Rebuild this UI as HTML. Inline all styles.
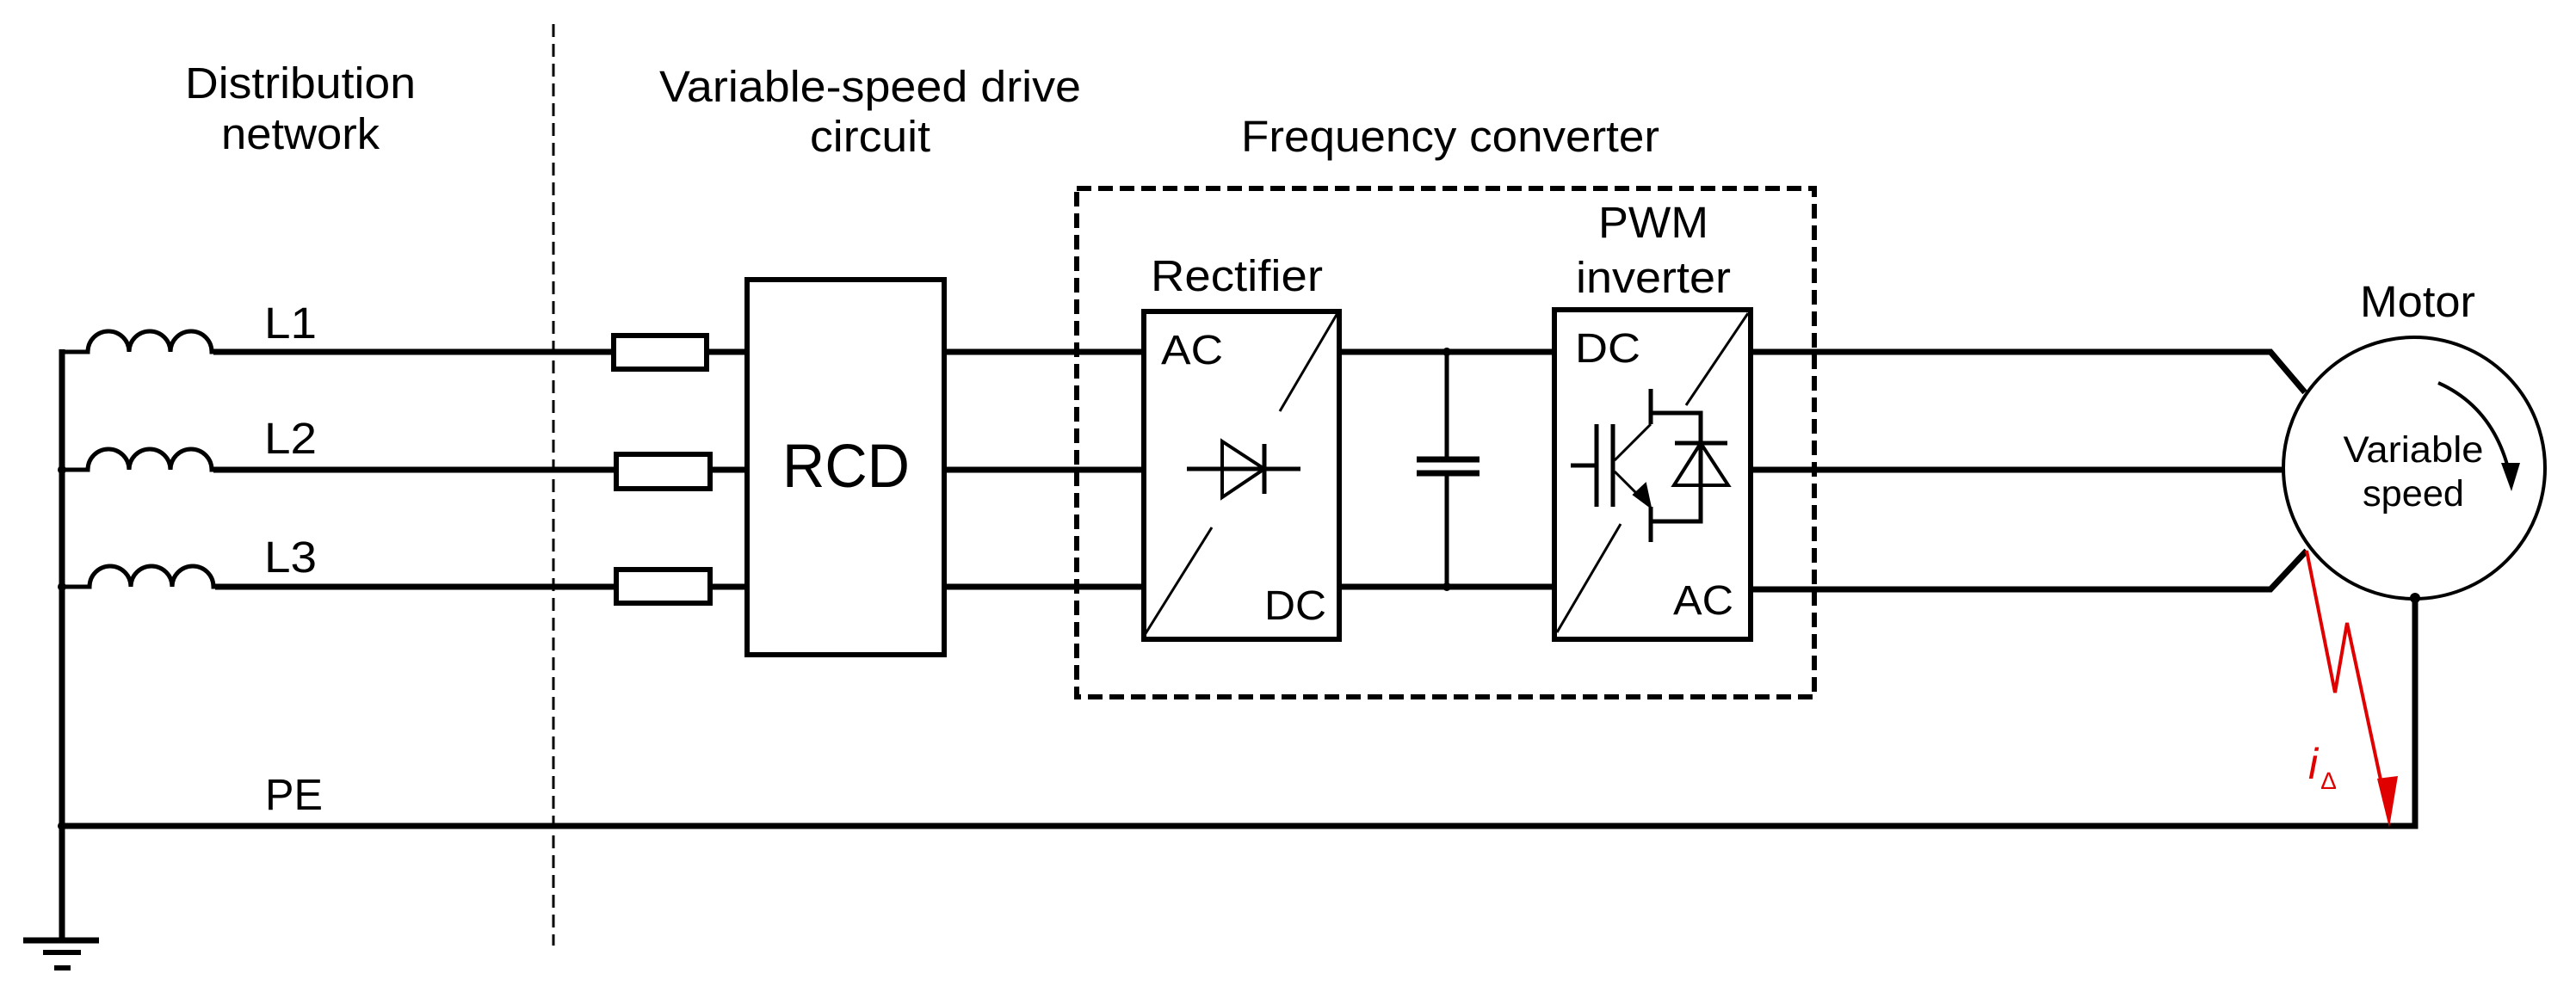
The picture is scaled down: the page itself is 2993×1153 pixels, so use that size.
<!DOCTYPE html>
<html><head><meta charset="utf-8"><style>html,body{margin:0;padding:0;background:#fff}svg{display:block}</style></head>
<body>
<svg width="2993" height="1153" viewBox="0 0 2993 1153" xmlns="http://www.w3.org/2000/svg" font-family="Liberation Sans, Arial, sans-serif" fill="#000">
<defs>
<marker id="ah" markerWidth="10" markerHeight="10" refX="8" refY="5" orient="auto" markerUnits="userSpaceOnUse"></marker>
</defs>
<g stroke="#000" stroke-width="6" fill="none">
<!-- dashed divider -->
<line x1="643" y1="28" x2="643" y2="1099" stroke-width="3" stroke-dasharray="15 8"/>
<!-- left bus -->
<line x1="72" y1="406" x2="72" y2="1093" stroke-width="7"/>
<!-- inductors and lines -->
<path d="M70 409 H102 a24 24 0 0 1 48 0 a24 24 0 0 1 48 0 a24 24 0 0 1 48 0 H713" stroke-width="5"/>
<path d="M70 546 H102 a24 24 0 0 1 48 0 a24 24 0 0 1 48 0 a24 24 0 0 1 48 0 H716" stroke-width="5"/>
<path d="M70 682 H104 a24 24 0 0 1 48 0 a24 24 0 0 1 48 0 a24 24 0 0 1 48 0 H716" stroke-width="5"/>
<line x1="248" y1="409" x2="713" y2="409" stroke-width="7"/>
<line x1="248" y1="546" x2="716" y2="546" stroke-width="7"/>
<line x1="250" y1="682" x2="716" y2="682" stroke-width="7"/>
<!-- fuses -->
<rect x="713" y="390" width="108" height="39"/>
<rect x="716" y="528" width="109" height="40"/>
<rect x="716" y="662" width="109" height="39"/>
<line x1="821" y1="409" x2="868" y2="409" stroke-width="7"/>
<line x1="825" y1="546" x2="868" y2="546" stroke-width="7"/>
<line x1="825" y1="682" x2="868" y2="682" stroke-width="7"/>
<!-- RCD -->
<rect x="868" y="325" width="229" height="436"/>
<line x1="1097" y1="409" x2="1329" y2="409" stroke-width="7"/>
<line x1="1097" y1="546" x2="1329" y2="546" stroke-width="7"/>
<line x1="1097" y1="682" x2="1329" y2="682" stroke-width="7"/>
<!-- freq converter dashed -->
<rect x="1251" y="219" width="857" height="591" stroke-dasharray="17 8"/>
<!-- rectifier -->
<rect x="1329" y="362" width="227" height="381" fill="#fff"/>
<line x1="1330" y1="738" x2="1408" y2="613" stroke-width="3"/>
<line x1="1487" y1="478" x2="1554" y2="364" stroke-width="3"/>
<line x1="1379" y1="545" x2="1511" y2="545" stroke-width="5"/>
<path d="M1420 513 L1469 545 L1420 578 Z" stroke-width="4"/>
<line x1="1469" y1="516" x2="1469" y2="574" stroke-width="5"/>
<!-- DC bus -->
<line x1="1556" y1="409" x2="1806" y2="409" stroke-width="7"/>
<line x1="1556" y1="682" x2="1806" y2="682" stroke-width="7"/>
<line x1="1681" y1="409" x2="1681" y2="534" stroke-width="5"/>
<line x1="1681" y1="549" x2="1681" y2="682" stroke-width="5"/>
<line x1="1646" y1="534" x2="1719" y2="534" stroke-width="7"/>
<line x1="1646" y1="550" x2="1719" y2="550" stroke-width="7"/>
<!-- PWM -->
<rect x="1806" y="360" width="228" height="383"/>
<line x1="1809" y1="735" x2="1883" y2="609" stroke-width="3"/>
<line x1="1959" y1="471" x2="2031" y2="364" stroke-width="3"/>
<line x1="1825" y1="541" x2="1855" y2="541" stroke-width="5"/>
<line x1="1855" y1="493" x2="1855" y2="589" stroke-width="5"/>
<line x1="1874" y1="493" x2="1874" y2="589" stroke-width="5"/>
<line x1="1876" y1="535" x2="1918" y2="493" stroke-width="3"/>
<line x1="1876" y1="548" x2="1908" y2="580" stroke-width="3"/>
<polygon points="1918,590 1898,575 1912,562" fill="#000" stroke-width="2"/>
<line x1="1918" y1="452" x2="1918" y2="493" stroke-width="5"/>
<line x1="1918" y1="589" x2="1918" y2="630" stroke-width="5"/>
<polyline points="1918,480 1976,480 1976,606 1918,606" stroke-width="5"/>
<line x1="1946" y1="515" x2="2007" y2="515" stroke-width="5"/>
<path d="M1945 564 L2008 564 L1976 515 Z" stroke-width="4"/>
<!-- outputs -->
<polyline points="2034,409 2638,409 2678,456" stroke-width="7"/>
<line x1="2034" y1="546" x2="2653" y2="546" stroke-width="7"/>
<polyline points="2034,685 2638,685 2680,640" stroke-width="7"/>
<!-- motor -->
<circle cx="2805" cy="544" r="152" stroke-width="4"/>
<path d="M2833 445 Q2900 475 2917 556" stroke-width="4"/>
<polyline points="2806,695 2806,960 72,960" stroke-width="7"/>
<!-- ground -->
<line x1="27" y1="1093" x2="115" y2="1093" stroke-width="7"/>
<line x1="50" y1="1107" x2="94" y2="1107" stroke-width="6"/>
<line x1="63" y1="1125" x2="82" y2="1125" stroke-width="6"/>
</g>
<polygon points="2906,538 2928,538 2918,571" fill="#000"/>
<circle cx="1681" cy="409" r="5"/><circle cx="1681" cy="682" r="5"/>
<circle cx="72" cy="546" r="5"/><circle cx="72" cy="682" r="5"/><circle cx="72" cy="960" r="5"/>
<circle cx="2806" cy="695" r="6"/>
<!-- red leakage -->
<polyline points="2680,640 2713,805 2727,724 2770,925" fill="none" stroke="#e00000" stroke-width="4"/>
<polygon points="2762,905 2786,902 2776,962" fill="#e00000"/>
<text x="2682" y="905" font-size="50" font-style="italic" fill="#e00000">i</text>
<text x="2697" y="917" font-size="28" fill="#e00000">∆</text>
<!-- labels -->
<g font-size="51">
<text x="349" y="114" text-anchor="middle" textLength="268" lengthAdjust="spacingAndGlyphs">Distribution</text>
<text x="349" y="173" text-anchor="middle" textLength="184" lengthAdjust="spacingAndGlyphs">network</text>
<text x="1011" y="118" text-anchor="middle" textLength="490" lengthAdjust="spacingAndGlyphs">Variable-speed drive</text>
<text x="1011" y="176" text-anchor="middle" textLength="140" lengthAdjust="spacingAndGlyphs">circuit</text>
<text x="1442" y="176" textLength="486" lengthAdjust="spacingAndGlyphs">Frequency converter</text>
<text x="1337" y="338" textLength="200" lengthAdjust="spacingAndGlyphs">Rectifier</text>
<text x="1921" y="276" text-anchor="middle" textLength="128" lengthAdjust="spacingAndGlyphs">PWM</text>
<text x="1921" y="340" text-anchor="middle" textLength="180" lengthAdjust="spacingAndGlyphs">inverter</text>
<text x="2809" y="368" text-anchor="middle" textLength="134" lengthAdjust="spacingAndGlyphs">Motor</text>
<text x="307" y="393" textLength="61" lengthAdjust="spacingAndGlyphs">L1</text>
<text x="307" y="527" textLength="61" lengthAdjust="spacingAndGlyphs">L2</text>
<text x="307" y="665" textLength="61" lengthAdjust="spacingAndGlyphs">L3</text>
<text x="308" y="941" textLength="67" lengthAdjust="spacingAndGlyphs">PE</text>
</g>
<g font-size="48">
<text x="1349" y="423" textLength="72" lengthAdjust="spacingAndGlyphs">AC</text>
<text x="1469" y="720" textLength="72" lengthAdjust="spacingAndGlyphs">DC</text>
<text x="1830" y="421" textLength="76" lengthAdjust="spacingAndGlyphs">DC</text>
<text x="1944" y="714" textLength="70" lengthAdjust="spacingAndGlyphs">AC</text>
</g>
<text x="983" y="566" font-size="71" text-anchor="middle" textLength="148" lengthAdjust="spacingAndGlyphs">RCD</text>
<g font-size="43">
<text x="2804" y="537" text-anchor="middle" textLength="163" lengthAdjust="spacingAndGlyphs">Variable</text>
<text x="2804" y="588" text-anchor="middle" textLength="118" lengthAdjust="spacingAndGlyphs">speed</text>
</g>
</svg>
</body></html>
